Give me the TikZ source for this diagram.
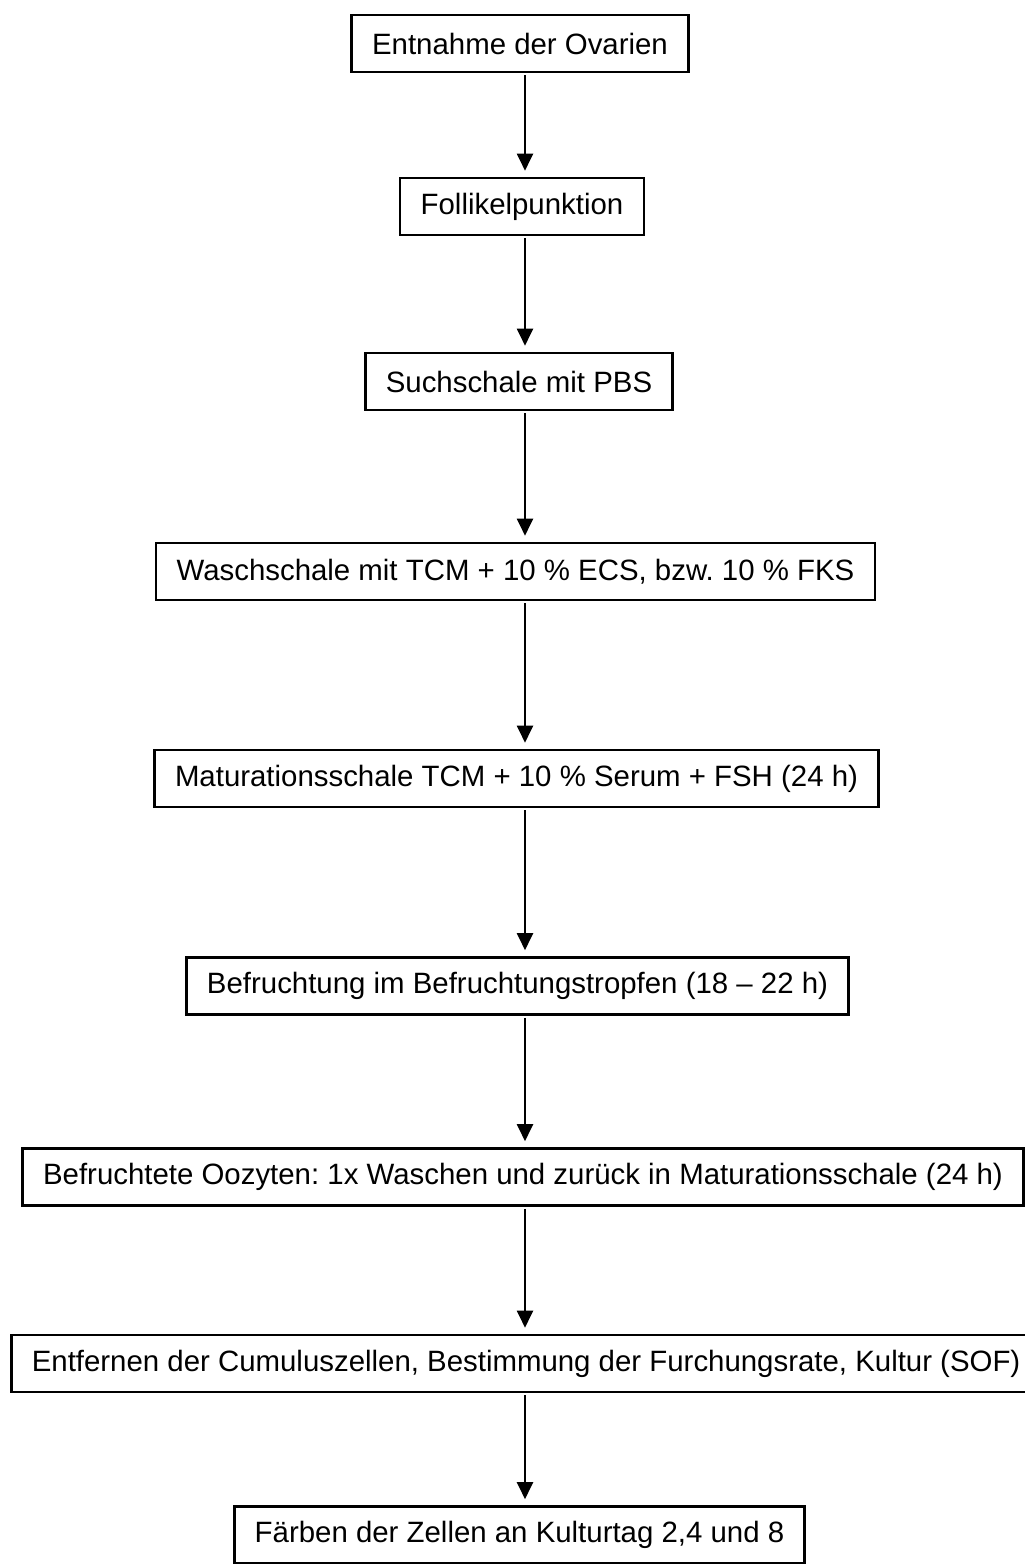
\documentclass[tikz,border=0pt]{standalone}
\usepackage{fontspec}
\setmainfont{Liberation Sans}
\usetikzlibrary{arrows.meta}
\begin{document}
\frenchspacing
\begin{tikzpicture}[x=1pt,y=-1pt,
  stepbox/.style={draw=black,line width=2.6pt,fill=white,minimum height=57pt,inner xsep=20.5pt,inner ysep=0pt,
    font=\fontsize{29.4}{34}\selectfont},
  flow/.style={line width=2pt,-{Triangle[width=16pt,length=17pt]},shorten <=2pt,shorten >=6pt}]
\useasboundingbox (0,0) rectangle (1025,1564);
\coordinate (ax) at (525,0);
\node[stepbox] (n1) at (520,43.5) {Entnahme der Ovarien};
\node[stepbox] (n2) at (522,206.5) {Follikelpunktion};
\node[stepbox] (n3) at (519,381.5) {Suchschale mit PBS};
\node[stepbox] (n4) at (515.5,571.5) {Waschschale mit TCM + 10 \% ECS, bzw. 10 \% FKS};
\node[stepbox] (n5) at (516.5,778.5) {Maturationsschale TCM + 10 \% Serum + FSH (24 h)};
\node[stepbox] (n6) at (517.5,986) {Befruchtung im Befruchtungstropfen (18 – 22 h)};
\node[stepbox] (n7) at (523,1177) {Befruchtete Oozyten: 1x Waschen und zurück in Maturationsschale (24 h)};
\node[stepbox,anchor=west] (n8) at (10,1363.5) {Entfernen der Cumuluszellen, Bestimmung der Furchungsrate, Kultur (SOF)};
\node[stepbox] (n9) at (519.5,1535) {Färben der Zellen an Kulturtag 2,4 und 8};
\foreach \a/\b in {n1/n2,n2/n3,n3/n4,n4/n5,n5/n6,n6/n7,n7/n8,n8/n9}
  \draw[flow] (\a.south -| ax) -- (\b.north -| ax);
\end{tikzpicture}
\end{document}
